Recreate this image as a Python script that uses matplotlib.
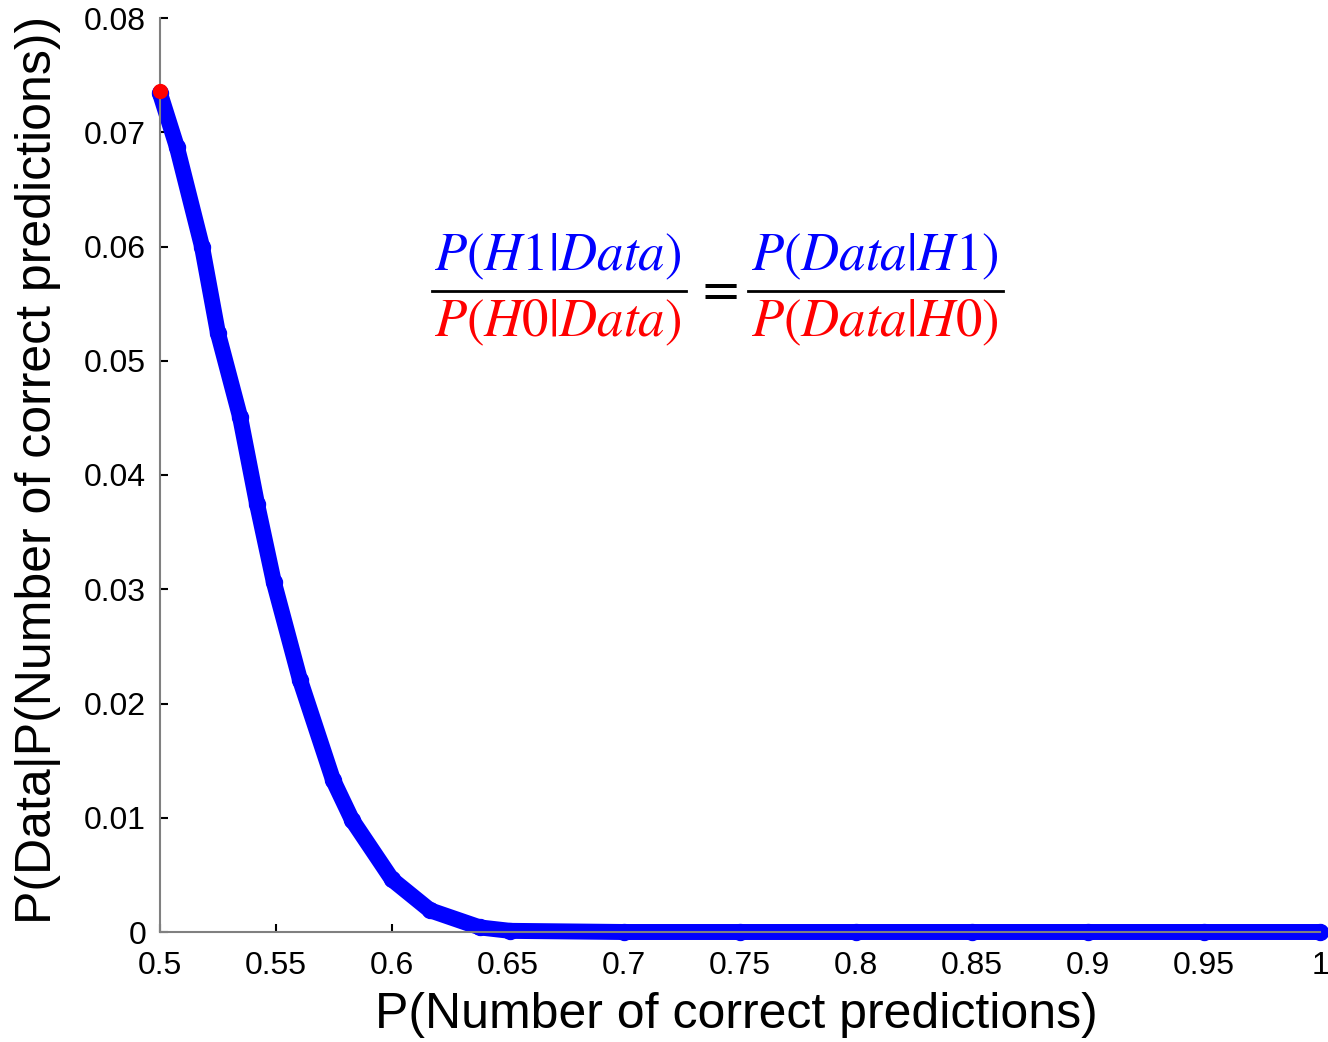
import matplotlib
matplotlib.use("Agg")
import matplotlib.pyplot as plt
from matplotlib.lines import Line2D

# curve values
p_correct = [0.5, 0.5073, 0.5181, 0.525, 0.5345, 0.5418, 0.5491, 0.5603,
             0.5746, 0.5828, 0.60, 0.6164, 0.6379, 0.6509, 0.70, 0.75,
             0.80, 0.85, 0.90, 0.95, 1.0]
likelihood = [0.0734, 0.0687, 0.0600, 0.0524, 0.0451, 0.0375, 0.0306, 0.0221,
              0.0133, 0.0098, 0.0046, 0.0019, 0.0004, 0.0001, 0.0, 0.0,
              0.0, 0.0, 0.0, 0.0, 0.0]
h0_x = [0.5]
h0_y = [0.0736]

x_ticks = [0.5, 0.55, 0.6, 0.65, 0.7, 0.75, 0.8, 0.85, 0.9, 0.95, 1.0]
x_tick_labels = ["0.5", "0.55", "0.6", "0.65", "0.7", "0.75", "0.8", "0.85", "0.9", "0.95", "1"]
y_ticks = [0, 0.01, 0.02, 0.03, 0.04, 0.05, 0.06, 0.07, 0.08]
y_tick_labels = ["0", "0.01", "0.02", "0.03", "0.04", "0.05", "0.06", "0.07", "0.08"]

plt.rcParams['font.family'] = ['Liberation Sans', 'DejaVu Sans']
plt.rcParams['mathtext.fontset'] = 'stix'

W, H = 1328, 1042
fig = plt.figure(figsize=(W / 100, H / 100), dpi=100)
ax = fig.add_axes([160 / W, 1 - 932 / H, (1320 - 160) / W, (932 - 18) / H])

ax.plot(p_correct, likelihood, '-', color='#0000ff', lw=11.5,
        solid_capstyle='round', solid_joinstyle='round', clip_on=False)
ax.plot(p_correct, likelihood, 'o', color='#0000ff', ms=11.5, clip_on=False)
ax.plot(h0_x, h0_y, 'o', color='#ff0000', ms=10, clip_on=False, zorder=5)

ax.set_xlim(0.5, 1.0)
ax.set_ylim(0, 0.08)
ax.set_xticks(x_ticks)
ax.set_xticklabels(x_tick_labels)
ax.set_yticks(y_ticks)
ax.set_yticklabels(y_tick_labels)
ax.tick_params(direction='in', length=6, width=1.5, color='black',
               labelsize=23, pad=10)
ax.tick_params(axis='x', pad=14)

for side in ['top', 'right']:
    ax.spines[side].set_visible(False)
for side in ['left', 'bottom']:
    ax.spines[side].set_color('#808080')
    ax.spines[side].set_linewidth(1.5)

ax.set_xlabel('P(Number of correct predictions)', fontsize=36, va='center')
ax.set_ylabel('P(Data|P(Number of correct predictions))', fontsize=36, va='center')
ax.xaxis.set_label_coords(0.497, -0.0908)
ax.yaxis.set_label_coords(-0.105, 0.505)

# equation drawn as two coloured fractions
def fx(px):
    return px / W

def fy(py):
    return 1 - py / H

eq_size = 38
fig.text(fx(558), fy(257), r'$P(H1|Data)$', color='#0000ff', fontsize=eq_size,
         ha='center', va='center')
fig.text(fx(558), fy(323), r'$P(H0|Data)$', color='#ff0000', fontsize=eq_size,
         ha='center', va='center')
fig.add_artist(Line2D([fx(432), fx(686)], [fy(291), fy(291)], color='black', lw=2))
fig.text(fx(717), fy(290), r'$=$', color='black', fontsize=eq_size,
         ha='center', va='center')
fig.text(fx(875), fy(257), r'$P(Data|H1)$', color='#0000ff', fontsize=eq_size,
         ha='center', va='center')
fig.text(fx(875), fy(323), r'$P(Data|H0)$', color='#ff0000', fontsize=eq_size,
         ha='center', va='center')
fig.add_artist(Line2D([fx(748), fx(1003)], [fy(291), fy(291)], color='black', lw=2))

fig.savefig('out.png', dpi=100)
